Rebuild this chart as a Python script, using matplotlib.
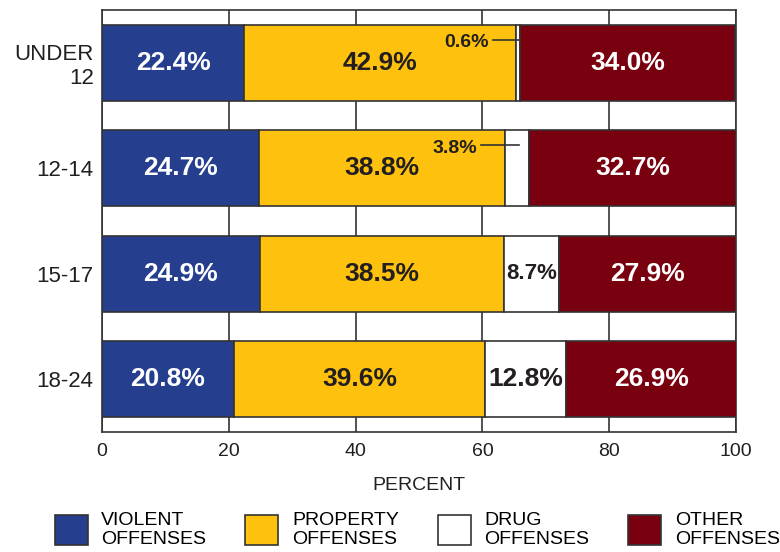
import matplotlib
matplotlib.use("Agg")
import matplotlib.pyplot as plt
import numpy as np
from matplotlib.patches import Patch

plt.rcParams['font.family'] = ['Liberation Sans', 'DejaVu Sans']

age_groups = ["UNDER\n12", "12-14", "15-17", "18-24"]
categories = ["VIOLENT\nOFFENSES", "PROPERTY\nOFFENSES", "DRUG\nOFFENSES", "OTHER\nOFFENSES"]
violent = [22.4, 24.7, 24.9, 20.8]
property_ = [42.9, 38.8, 38.5, 39.6]
drug = [0.6, 3.8, 8.7, 12.8]
other = [34.0, 32.7, 27.9, 26.9]
x_ticks = [0, 20, 40, 60, 80, 100]

series = [violent, property_, drug, other]
colors = ["#253e8e", "#fdc10e", "#ffffff", "#78000f"]
text_colors = ["white", "#231f20", "#231f20", "white"]
edge = "#333333"

fig = plt.figure(figsize=(7.8, 5.52), dpi=100)
ax = fig.add_axes([102/780, 1 - 432/552, (736-102)/780, (432-10)/552])

y = np.arange(len(age_groups))
left = np.zeros(len(age_groups))
for k, (vals, c) in enumerate(zip(series, colors)):
    ax.barh(y, vals, left=left, height=0.72, color=c, edgecolor=edge,
            linewidth=1.2, zorder=3)
    for i, (v, l) in enumerate(zip(vals, left)):
        cx = l + v / 2
        if k == 2:
            if v < 5:
                lx = l - 7.8
                ly = y[i] - 0.19
                ax.text(lx, ly, f"{v:.1f}%", ha="center", va="center",
                        fontsize=14, fontweight="bold", color=text_colors[k], zorder=5)
                ax.plot([lx + 4.1, l + v / 2 + (0.1 if v < 1 else 0.3)], [ly - 0.03, ly - 0.03],
                        color=edge, lw=1.2, zorder=5)
            else:
                fs = 16 if v < 10 else 19
                ax.text(cx, y[i], f"{v:.1f}%", ha="center", va="center",
                        fontsize=fs, fontweight="bold", color=text_colors[k], zorder=5)
        else:
            ax.text(cx, y[i], f"{v:.1f}%", ha="center", va="center",
                    fontsize=19, fontweight="bold", color=text_colors[k], zorder=5)
    left = left + np.array(vals)

ax.set_xlim(0, 100)
ax.set_ylim(3.5, -0.5)
ax.set_xticks(x_ticks)
ax.set_xticklabels([str(t) for t in x_ticks], fontsize=14, color="#231f20")
ax.set_yticks(y)
ax.set_yticklabels(age_groups, fontsize=16, color="#231f20", ha="right", multialignment="right")
ax.tick_params(axis="y", length=0, pad=6)
ax.tick_params(axis="x", length=0, pad=8)
ax.grid(axis="x", color=edge, linewidth=1.2, zorder=0)
for s in ax.spines.values():
    s.set_color(edge)
    s.set_linewidth(1.2)
ax.set_xlabel("PERCENT", fontsize=14, color="#231f20", labelpad=12)

handles = [Patch(facecolor=c, edgecolor=edge, linewidth=1.2) for c in colors]
fig.legend(handles, categories, loc="lower center", ncol=4, frameon=False,
           bbox_to_anchor=(0.535, -0.025), fontsize=14, handlelength=1.7, handleheight=2.0,
           columnspacing=2.0, handletextpad=0.7, labelspacing=0.1)

fig.savefig("out.png", dpi=100)
